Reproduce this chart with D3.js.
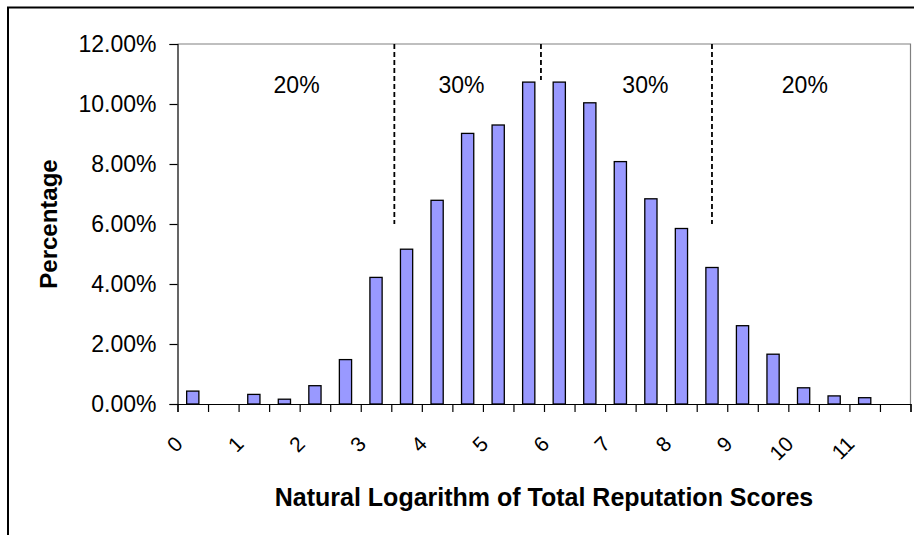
<!DOCTYPE html>
<html lang="en">
<head>
    <meta charset="UTF-8">
    <title>Reputation Score Distribution</title>
</head>

<style>

body {
    margin: 0;
    background: white;
}

text {
    font-family: 'Liberation Sans', Arial, sans-serif;
    fill: black;
}

.bar {
    fill: #9999ff;
    stroke: black;
    stroke-width: 1.3px;
}

.axis-title {
    font-weight: bold;
    font-size: 24px;
}

.share {
    font-size: 23px;
}

</style>

<svg height="535" width="914"></svg>

<script src="https://d3js.org/d3.v7.min.js"></script>

<script>

    var translate = function(left, top) {
        return "translate(" + left + "," + top + ")";
    };

    // bins of width 0.5 on the log scale, only the whole numbers get a label
    var bins = [0, 0.5, 1, 1.5, 2, 2.5, 3, 3.5, 4, 4.5, 5, 5.5,
                6, 6.5, 7, 7.5, 8, 8.5, 9, 9.5, 10, 10.5, 11, 11.5];
    var shares = [0.0043, 0, 0.0032, 0.0016, 0.0061, 0.0148, 0.0422, 0.0516,
                  0.0679, 0.0902, 0.0930, 0.1073, 0.1073, 0.1004, 0.0808, 0.0684,
                  0.0585, 0.0455, 0.0261, 0.0166, 0.0054, 0.0027, 0.0021, 0];
    var yTicks = [0, 0.02, 0.04, 0.06, 0.08, 0.10, 0.12];

    // dashed cut lines (in bin index units) and the share written in each zone
    var cutAt = [7.1, 11.9, 17.5];
    var cutDownTo = [0.06, 0.108, 0.06];
    var zoneLabels = ["20%", "30%", "30%", "20%"];
    var zoneAt = [3.9, 9.3, 15.32, 20.54];

    var svg = d3.select("svg"),
        plot = {left: 177.5, right: 910.5, top: 44, bottom: 404};

    // outer chart frame, runs off the right and bottom edges
    svg.append("rect")
        .attr("x", 8).attr("y", 7.5)
        .attr("width", 960).attr("height", 600)
        .attr("fill", "none")
        .attr("stroke", "black")
        .attr("stroke-width", 2);

    var x = d3.scaleBand().domain(d3.range(bins.length)).range([plot.left, plot.right]);
    var xIndex = d3.scaleLinear().domain([0, bins.length]).range([plot.left, plot.right]);
    var y = d3.scaleLinear().domain([0, 0.12]).range([plot.bottom, plot.top]);

    // plot area border (grey top and right)
    svg.append("path")
        .attr("d", "M" + plot.left + "," + plot.top + "H" + plot.right + "V" + plot.bottom)
        .attr("fill", "none")
        .attr("stroke", "#808080")
        .attr("stroke-width", 1.2);

    var yAxis = svg.append("g")
        .attr("transform", translate(plot.left, 0))
        .call(d3.axisLeft(y).tickValues(yTicks).tickFormat(d3.format(".2%")).tickSize(8).tickPadding(13));
    yAxis.selectAll("text").attr("font-size", 23).attr("font-family", null);

    var xAxis = svg.append("g")
        .attr("transform", translate(0, plot.bottom))
        .call(d3.axisBottom(xIndex).tickValues(d3.range(bins.length + 1)).tickSize(8).tickFormat(""));

    svg.selectAll(".domain").attr("stroke", "black").attr("stroke-width", 1.2);
    svg.selectAll(".tick line").attr("stroke", "black").attr("stroke-width", 1.2);

    var barWidth = x.bandwidth() * 0.4;

    var barData = shares
        .map(function(s, i) { return {share: s, i: i}; })
        .filter(function(d) { return d.share > 0; });

    svg.selectAll(".bar")
        .data(barData)
        .enter()
        .append("rect")
        .attr("class", "bar")
        .attr("x", function(d) { return x(d.i) + (x.bandwidth() - barWidth) / 2; })
        .attr("y", function(d) { return y(d.share); })
        .attr("width", barWidth)
        .attr("height", function(d) { return y(0) - y(d.share); });

    // category labels, every other bin, slanted
    svg.selectAll(".xlabel")
        .data(bins.map(function(b, i) { return {bin: b, i: i}; }).filter(function(d) { return d.bin % 1 === 0; }))
        .enter()
        .append("text")
        .attr("class", "xlabel")
        .attr("font-size", 21)
        .attr("text-anchor", "end")
        .attr("dy", "0.35em")
        .attr("transform", function(d) {
            return translate(x(d.i) + x.bandwidth() / 2 - 14, 440) + " rotate(-45)";
        })
        .text(function(d) { return d.bin; });

    svg.selectAll(".cut")
        .data(cutAt)
        .enter()
        .append("line")
        .attr("class", "cut")
        .attr("x1", function(d) { return xIndex(d); })
        .attr("x2", function(d) { return xIndex(d); })
        .attr("y1", y(0.12))
        .attr("y2", function(d, i) { return y(cutDownTo[i]); })
        .attr("stroke", "black")
        .attr("stroke-width", 1.8)
        .attr("stroke-dasharray", "5,3");

    svg.selectAll(".share")
        .data(zoneLabels)
        .enter()
        .append("text")
        .attr("class", "share")
        .attr("text-anchor", "middle")
        .attr("x", function(d, i) { return xIndex(zoneAt[i]); })
        .attr("y", 93)
        .text(function(d) { return d; });

    svg.append("text")
        .attr("class", "axis-title")
        .attr("text-anchor", "middle")
        .attr("font-size", 25)
        .style("font-size", "25px")
        .attr("x", (plot.left + plot.right) / 2)
        .attr("y", 506)
        .text("Natural Logarithm of Total Reputation Scores");

    svg.append("text")
        .attr("class", "axis-title")
        .attr("text-anchor", "middle")
        .attr("transform", translate(57, (plot.top + plot.bottom) / 2) + " rotate(-90)")
        .text("Percentage");

</script>

</html>
